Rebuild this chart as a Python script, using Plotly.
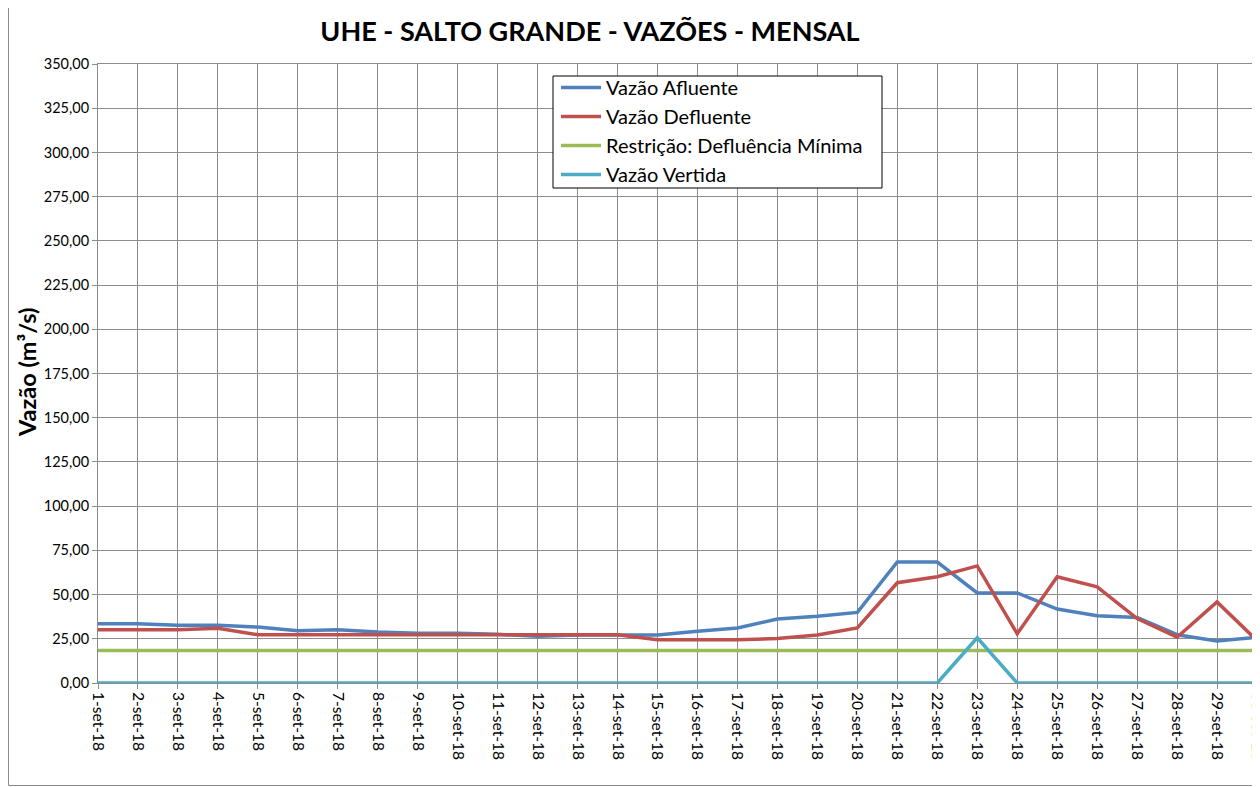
import plotly.graph_objects as go

dates = [f"{d}-set-18" for d in range(1, 31)]

afluente = [33.5, 33.5, 32.6, 32.6, 31.6, 29.5, 30.1, 28.8, 28.2, 28.2,
            27.5, 26.5, 27.1, 27.3, 27.1, 29.2, 31.1, 36.2, 37.7, 39.9,
            68.4, 68.4, 50.9, 50.9, 41.8, 38.0, 37.1, 27.3, 23.7, 25.9]
defluente = [30.1, 30.1, 30.1, 31.0, 27.3, 27.3, 27.3, 27.3, 27.3, 27.3,
             27.3, 27.3, 27.3, 27.3, 24.4, 24.4, 24.4, 25.2, 27.1, 31.1,
             56.7, 60.1, 66.2, 27.8, 60.1, 54.4, 36.4, 25.9, 45.8, 24.0]
restricao = [18.4] * 30
vertida = [0, 0, 0, 0, 0, 0, 0, 0, 0, 0,
           0, 0, 0, 0, 0, 0, 0, 0, 0, 0,
           0, 0, 25.6, 0, 0, 0, 0, 0, 0, 0]

series = [
    ("Vazão Afluente", afluente, "#4F81BD"),
    ("Vazão Defluente", defluente, "#C0504D"),
    ("Restrição: Defluência Mínima", restricao, "#9BBB59"),
    ("Vazão Vertida", vertida, "#4BACC6"),
]

FONT = "Lato, Carlito, Calibri, sans-serif"

fig = go.Figure()
for name, vals, color in series:
    fig.add_trace(go.Scatter(x=dates, y=vals, name=name, mode="lines",
                             line=dict(color=color, width=3.5)))

OFF = 8  # page body margin
W, H = 1260 - OFF, 787 - OFF
L, R, T, B = 98 - OFF, 3, 64 - OFF, 104
pw = W - L - R
ph = H - T - B


def px_x(x):
    return (x - OFF - L) / pw


def px_y(y):
    return (H - B - (y - OFF)) / ph


fig.update_layout(
    width=W, height=H,
    margin=dict(l=L, r=R, t=T, b=B, autoexpand=False),
    paper_bgcolor="white", plot_bgcolor="white",
    separators=",.",
    font=dict(family=FONT, color="black", size=14),
    title=dict(text="<b>UHE - SALTO GRANDE - VAZÕES - MENSAL</b>",
               x=(590 - OFF) / W, xanchor="center", y=1 - (32 - OFF) / H, yanchor="middle",
               font=dict(size=27, family=FONT, color="black")),
    showlegend=True,
    legend=dict(x=px_x(556), y=px_y(68), xanchor="left", yanchor="top",
                borderwidth=0, bgcolor="rgba(0,0,0,0)",
                font=dict(size=20, family=FONT), tracegroupgap=0,
                itemwidth=40),
    xaxis=dict(type="category", range=[0, 29], showgrid=True, gridcolor="#8c8c8c",
               gridwidth=1, tickangle=90, ticks="outside", ticklen=5,
               tickcolor="#8c8c8c", showline=True, linecolor="#8c8c8c",
               mirror=True, tickfont=dict(size=15.5, family=FONT), zeroline=False,
               automargin=False),
    yaxis=dict(range=[0, 350], dtick=25, tick0=0, tickformat=".2f",
               showgrid=True, gridcolor="#8c8c8c", gridwidth=1,
               ticks="outside", ticklen=5, tickcolor="#8c8c8c",
               showline=True, linecolor="#8c8c8c", mirror=True,
               tickfont=dict(size=14.5, family=FONT), zeroline=False,
               automargin=False),
)

# legend frame
fig.add_shape(type="rect", xref="paper", yref="paper",
              x0=px_x(553), x1=px_x(882), y0=px_y(188), y1=px_y(76),
              line=dict(color="black", width=1), fillcolor="white", layer="above")

fig.add_annotation(text="<b>Vazão (m³/s)</b>", textangle=-90,
                   xref="paper", yref="paper",
                   x=px_x(27), y=px_y(372),
                   xanchor="center", yanchor="middle", showarrow=False,
                   font=dict(size=23.5, family=FONT, color="black"))

fig.add_shape(type="rect", xref="paper", yref="paper",
              x0=px_x(8.5), x1=px_x(1270),
              y0=px_y(785.5), y1=px_y(-5),
              line=dict(color="#8c8c8c", width=1), layer="below")

fig.write_html("out.html")
